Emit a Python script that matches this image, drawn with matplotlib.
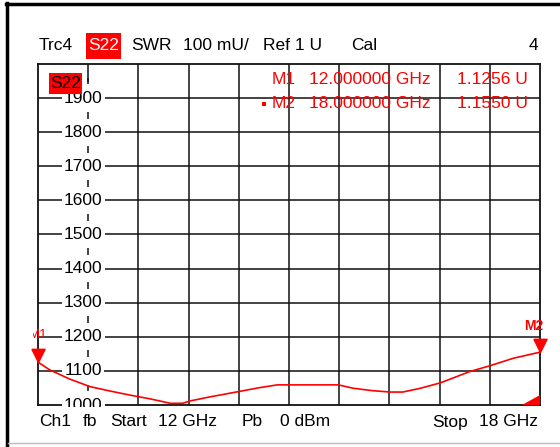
import matplotlib
matplotlib.use("Agg")
import matplotlib.pyplot as plt
from matplotlib.patches import Rectangle, Polygon
from matplotlib.lines import Line2D
from matplotlib.path import Path
from matplotlib.transforms import Bbox

# tamaño de la imagen en pixeles
W, H = 560, 447

freq_ghz = [12.0, 12.14, 12.38, 12.62, 12.86, 13.10, 13.34, 13.49, 13.58, 13.73,
            13.82, 14.06, 14.39, 14.65, 14.86, 15.59, 15.77, 16.00, 16.21, 16.36,
            16.57, 16.81, 17.16, 17.40, 17.68, 18.0]
swr_mu = [1125.6, 1103, 1076, 1054, 1041, 1029, 1018, 1010, 1005, 1005,
          1012, 1024, 1039, 1051, 1059, 1059, 1049, 1042, 1038, 1038,
          1049, 1065, 1098, 1115, 1137, 1155.0]

y_ticks = [1000, 1100, 1200, 1300, 1400, 1500, 1600, 1700, 1800, 1900]
x_grid = [12.6, 13.2, 13.8, 14.4, 15.0, 15.6, 16.2, 16.8, 17.4]

marker_freq = [12.0, 18.0]
marker_val = [1125.6, 1155.0]
marker_rows = [("M1", "12.000000 GHz", "1.1256 U"),
               ("M2", "18.000000 GHz", "1.1550 U")]

header = [("Trc4", 39), ("SWR", 131), ("100 mU/", 183), ("Ref 1 U", 263), ("Cal", 351), ("4", 529)]
footer = [("Ch1", 39), ("fb", 83), ("Start", 110), ("12 GHz", 158), ("Pb", 242),
          ("0 dBm", 280), ("Stop", 432), ("18 GHz", 479)]

FONT = "Liberation Sans"
FS = 12.5
ROJO = "#ff0000"


def fx(x):
    return x / W


def fy(y):
    return 1 - y / H


def marco(fig):
    # bordes de la ventana del instrumento
    fig.add_artist(Line2D([fx(7), fx(7)], [fy(3), fy(447)], color="black", lw=2.5))
    fig.add_artist(Line2D([fx(6), fx(560)], [fy(4), fy(4)], color="black", lw=2.5))
    fig.add_artist(Line2D([fx(8), fx(560)], [fy(443), fy(443)], color="#bbbbbb", lw=1.0))


def caja(fig, x0, y0, x1, y1, texto, color_texto):
    fig.add_artist(Rectangle((fx(x0), fy(y1)), fx(x1 - x0), (y1 - y0) / H,
                             facecolor=ROJO, edgecolor="none", zorder=5))
    fig.text(fx((x0 + x1) / 2), fy((y0 + y1) / 2), texto, color=color_texto,
             ha="center", va="center", fontsize=FS, family=FONT, zorder=6)


def main():
    plt.rcParams["font.family"] = FONT
    fig = plt.figure(figsize=(W / 100, H / 100), dpi=100)
    ax = fig.add_axes([fx(38), fy(405), fx(540 - 38), (405 - 64) / H])
    ax.set_xlim(12, 18)
    ax.set_ylim(1000, 2000)
    ax.set_xticks([])
    ax.set_yticks([])
    for s in ax.spines.values():
        s.set_color("#111111")
        s.set_linewidth(1.3)

    # reticula
    for xg in x_grid[1:]:
        ax.axvline(xg, color="#111111", lw=1.1, zorder=1)
    for yt in y_ticks[1:]:
        ax.axhline(yt, color="#111111", lw=1.1, zorder=1)

    # eje central con marcas cortas entre etiquetas
    xc = x_grid[0]
    ax.vlines(xc, 1947, 2000, color="#111111", lw=1.1, zorder=1)
    ax.vlines([xc] * len(y_ticks), [v + 40 for v in y_ticks], [v + 60 for v in y_ticks],
              color="#111111", lw=1.1, zorder=1)

    # etiquetas del eje (la de 1000 queda cortada abajo)
    recorte = Bbox.from_extents(0, H - 407, W, H)
    for yt in y_ticks:
        t = ax.text(12.54, yt, str(yt), ha="center", va="center", fontsize=FS, zorder=3,
                    bbox=dict(facecolor="white", edgecolor="none", pad=1.5))
        t.set_clip_box(recorte)
        t.set_clip_on(True)

    # traza
    ax.plot(freq_ghz, swr_mu, color=ROJO, lw=1.2, zorder=4)

    # marcadores M1 y M2 (triangulo con punta en la traza)
    tri = Path([(-0.5, 1.0), (0.5, 1.0), (0.0, 0.0), (-0.5, 1.0)])
    ax.plot(marker_freq, marker_val, linestyle="none", marker=tri, markersize=19,
            color=ROJO, clip_on=False, zorder=5)
    t1 = ax.annotate("M1", (marker_freq[0], marker_val[0]), xytext=(0, 27),
                     textcoords="offset pixels", ha="center", va="center",
                     fontsize=9.5, color=ROJO, annotation_clip=False)
    t1.set_clip_box(Bbox.from_extents(33, 0, W, H))
    t1.set_clip_on(True)
    t2 = ax.annotate("M2", (marker_freq[1], marker_val[1]), xytext=(-6, 26),
                     textcoords="offset pixels", ha="center", va="center",
                     fontsize=10, fontweight="bold", color=ROJO, annotation_clip=False)
    t2.set_clip_box(Bbox.from_extents(0, 0, 543, H))
    t2.set_clip_on(True)

    # indicador en la esquina inferior derecha
    ax.add_patch(Polygon([(17.785, 1000), (18, 1000), (18, 1029)],
                         closed=True, facecolor=ROJO, edgecolor="none", clip_on=False, zorder=5))

    # lectura de marcadores
    for i, (nombre, f, v) in enumerate(marker_rows):
        y = 79 + 25 * i
        fig.text(fx(272), fy(y), nombre, color=ROJO, fontsize=FS, va="center")
        fig.text(fx(309), fy(y), f, color=ROJO, fontsize=FS, va="center")
        fig.text(fx(528), fy(y), v, color=ROJO, fontsize=FS, va="center", ha="right")
    fig.add_artist(Rectangle((fx(262), fy(106)), fx(4), 4 / H, facecolor=ROJO, edgecolor="none"))

    # encabezado y pie
    for txt, x in header:
        fig.text(fx(x), fy(46), txt, fontsize=FS, va="center")
    caja(fig, 86, 33, 121, 59, "S22", "white")
    caja(fig, 49, 73, 82, 94, "S22", "black")
    for txt, x in footer:
        fig.text(fx(x), fy(422), txt, fontsize=FS, va="center")

    marco(fig)
    fig.savefig("out.png", dpi=100)


if __name__ == "__main__":
    main()
